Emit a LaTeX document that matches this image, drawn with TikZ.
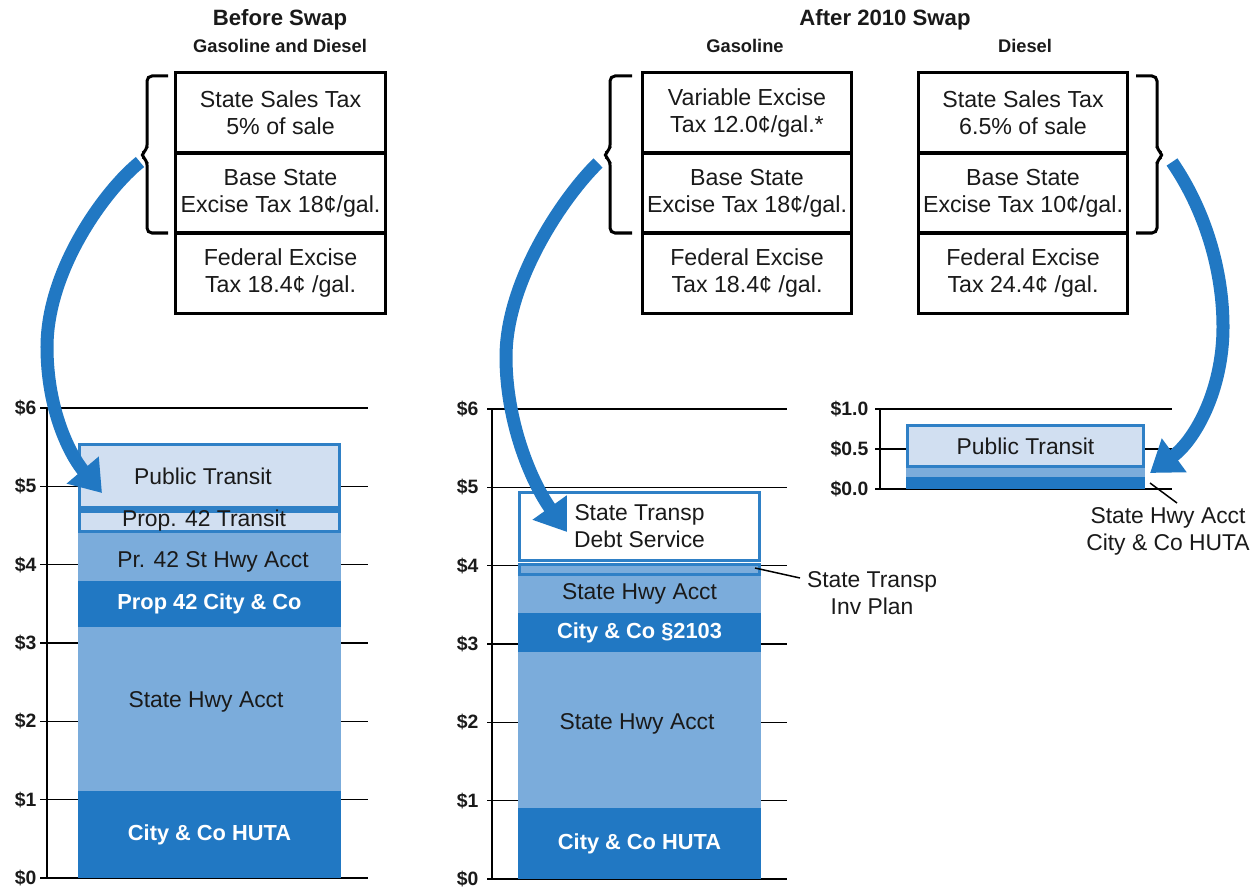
\documentclass[tikz,border=0pt]{standalone}
\usepackage{fontspec}
\setmainfont{Liberation Sans}
\usetikzlibrary{arrows.meta}
\definecolor{dk}{HTML}{2178C3}
\definecolor{md}{HTML}{7BACDB}
\definecolor{lt}{HTML}{D1DFF1}
\definecolor{bd}{HTML}{2F80C6}
\definecolor{txt}{HTML}{1A1A1A}
\tikzset{
  taxbox/.style={draw=black, line width=0.03cm, minimum width=2.09cm, minimum height=0.8cm,
    inner sep=0pt, align=center, text=txt, font=\fontsize{6.6pt}{7.7pt}\selectfont},
  ttl/.style={font=\bfseries\fontsize{6.3pt}{7.5pt}\selectfont, text=txt, inner sep=0pt},
  subttl/.style={font=\bfseries\fontsize{5.2pt}{6.2pt}\selectfont, text=txt, inner sep=0pt},
  seg/.style={inner sep=0pt, align=center, text=txt, font=\fontsize{6.5pt}{7.7pt}\selectfont},
  dkseg/.style={seg, fill=dk, text=white, font=\bfseries\fontsize{6.2pt}{7.4pt}\selectfont},
  mdseg/.style={seg, fill=md},
  ltseg/.style={seg, fill=lt, draw=bd, line width=0.03cm},
  whseg/.style={seg, fill=white, draw=bd, line width=0.03cm},
  axlbl/.style={anchor=east, inner sep=0pt, text=txt, font=\bfseries\fontsize{5.5pt}{6.5pt}\selectfont},
  grid/.style={line width=0.013cm, draw=black},
  bracestyle/.style={line width=0.03cm, draw=black, rounded corners=0.05cm},
  bigarrow/.style={draw=dk, line width=0.13cm, -{Triangle[width=0.4cm,length=0.3cm]}},
  leader/.style={line width=0.015cm, draw=black},
  note/.style={inner sep=0pt, align=center, text=txt, font=\fontsize{6.5pt}{7.7pt}\selectfont}
}
\begin{document}
\begin{tikzpicture}[x=0.01cm, y=-0.01cm]
\useasboundingbox[fill=white] (0,0) rectangle (1258,888);

% titles
\node[ttl] (t1) at (280,20) {Before Swap};
\node[subttl] (t1s) at (280,46) {Gasoline and Diesel};
\node[ttl] (t2) at (885,20) {After 2010 Swap};
\node[subttl] (t2g) at (745,46) {Gasoline};
\node[subttl] (t2d) at (1025,46) {Diesel};

% tax boxes: before
\node[taxbox] (b1) at (280.5,113) {State Sales Tax\\5\% of sale};
\node[taxbox] (b2) at (280.5,193) {Base State\\Excise Tax 18¢/gal.};
\node[taxbox] (b3) at (280.5,273) {Federal Excise\\Tax 18.4¢ /gal.};
% gasoline
\node[taxbox] (g1) at (747,113) {Variable Excise\\Tax 12.0¢/gal.*};
\node[taxbox] (g2) at (747,193) {Base State\\Excise Tax 18¢/gal.};
\node[taxbox] (g3) at (747,273) {Federal Excise\\Tax 18.4¢ /gal.};
% diesel
\node[taxbox] (d1) at (1023,113) {State Sales Tax\\6.5\% of sale};
\node[taxbox] (d2) at (1023,193) {Base State\\Excise Tax 10¢/gal.};
\node[taxbox] (d3) at (1023,273) {Federal Excise\\Tax 24.4¢ /gal.};

% braces
\draw[bracestyle] (168,76) -- (147,76) -- (147,150) -- (140,155) -- (147,160) -- (147,233) -- (168,233);
\draw[bracestyle] (632,76) -- (610,76) -- (610,150) -- (603,155) -- (610,160) -- (610,233) -- (632,233);
\draw[bracestyle] (1136,76) -- (1157,76) -- (1157,150) -- (1164,155) -- (1157,160) -- (1157,233) -- (1136,233);

% ---------- left chart ----------
\foreach \yy in {408,486.3,564.7,643,721.3,799.7,878} \draw[grid] (40,\yy) -- (368,\yy);
\draw[grid] (47,408) -- (47,878);
\node[axlbl] (la6) at (37,408) {\$6};
\node[axlbl] (la5) at (37,486.3) {\$5};
\node[axlbl] (la4) at (37,564.7) {\$4};
\node[axlbl] (la3) at (37,643) {\$3};
\node[axlbl] (la2) at (37,721.3) {\$2};
\node[axlbl] (la1) at (37,799.7) {\$1};
\node[axlbl] (la0) at (37,878) {\$0};

\node[dkseg, minimum width=2.63cm, minimum height=0.87cm] (L1) at (209.5,834.5) {City \& Co HUTA};
\node[mdseg, minimum width=2.63cm, minimum height=1.64cm] (L2) at (209.5,709) {};
\node[seg] (L2t) at (206,702) {State Hwy Acct};
\node[dkseg, minimum width=2.63cm, minimum height=0.46cm] (L3) at (209.5,604) {Prop 42 City \& Co};
\node[mdseg, minimum width=2.63cm, minimum height=0.48cm] (L4) at (209.5,557) {};
\node[seg] (L4t) at (213,562) {Pr. 42 St Hwy Acct};
\node[ltseg, minimum width=2.60cm, minimum height=0.20cm] (L5) at (209.5,521) {};
\node[seg] (L5t) at (204,521) {Prop. 42 Transit};
\node[ltseg, minimum width=2.60cm, minimum height=0.63cm] (L6) at (209.5,476) {};
\node[seg] (L6t) at (203,476) {Public Transit};

% ---------- middle chart ----------
\foreach \yy in {409,487.3,565.7,644,722.3,800.7,879} \draw[grid] (487,\yy) -- (787,\yy);
\draw[grid] (492,409) -- (492,879);
\node[axlbl] (ma6) at (479,409) {\$6};
\node[axlbl] (ma5) at (479,487.3) {\$5};
\node[axlbl] (ma4) at (479,565.7) {\$4};
\node[axlbl] (ma3) at (479,644) {\$3};
\node[axlbl] (ma2) at (479,722.3) {\$2};
\node[axlbl] (ma1) at (479,800.7) {\$1};
\node[axlbl] (ma0) at (479,879) {\$0};

\node[dkseg, minimum width=2.43cm, minimum height=0.71cm] (M1) at (639.5,843.5) {City \& Co HUTA};
\node[mdseg, minimum width=2.43cm, minimum height=1.56cm] (M2) at (639.5,730) {};
\node[seg] (M2t) at (637,724) {State Hwy Acct};
\node[dkseg, minimum width=2.43cm, minimum height=0.39cm] (M3) at (639.5,632.5) {City \& Co §2103};
\node[mdseg, minimum width=2.43cm, minimum height=0.38cm] (M4) at (639.5,594) {State Hwy Acct};
\node[ltseg, fill=md, minimum width=2.40cm, minimum height=0.10cm] (M5) at (639.5,569) {};
\node[whseg, minimum width=2.40cm, minimum height=0.67cm] (M6) at (639.5,526.5) {State Transp\\Debt Service};

\coordinate (ipc) at (755,568);
\coordinate (ipe) at (800,578);
\draw[leader] (ipc) -- (ipe);
\node[note] (ipl) at (872,593) {State Transp\\Inv Plan};

% ---------- right chart ----------
\foreach \yy in {409,449,489} \draw[grid] (875,\yy) -- (1172,\yy);
\draw[grid] (880,409) -- (880,489);
\node[axlbl] (ra1) at (869,409) {\$1.0};
\node[axlbl] (ra5) at (869,449) {\$0.5};
\node[axlbl] (ra0) at (869,489) {\$0.0};

\node[seg, fill=dk, minimum width=2.39cm, minimum height=0.12cm] (R1) at (1025.5,483) {};
\node[mdseg, minimum width=2.39cm, minimum height=0.10cm] (R2) at (1025.5,472) {};
\node[ltseg, minimum width=2.36cm, minimum height=0.40cm] (R3) at (1025.5,446) {Public Transit};

\coordinate (rlc) at (1150,483);
\coordinate (rle) at (1177,503);
\draw[leader] (rlc) -- (rle);
\node[note] (rl) at (1168,531) {State Hwy Acct\\City \& Co HUTA};

% ---------- arrows ----------
\coordinate (a1s) at (140,162);
\coordinate (a1e) at (102,493);
\draw[bigarrow] (a1s) .. controls (105,190) and (47,270) .. (47,347) .. controls (47,410) and (70,455) .. (a1e);
\coordinate (a2s) at (598,163);
\coordinate (a2e) at (567,532);
\draw[bigarrow] (a2s) .. controls (565,195) and (506,280) .. (506,357) .. controls (506,420) and (530,480) .. (a2e);
\coordinate (a3s) at (1172,162);
\coordinate (a3e) at (1150,473);
\draw[bigarrow] (a3s) .. controls (1205,210) and (1223,270) .. (1223,327) .. controls (1223,390) and (1195,440) .. (a3e);
\end{tikzpicture}
\end{document}
